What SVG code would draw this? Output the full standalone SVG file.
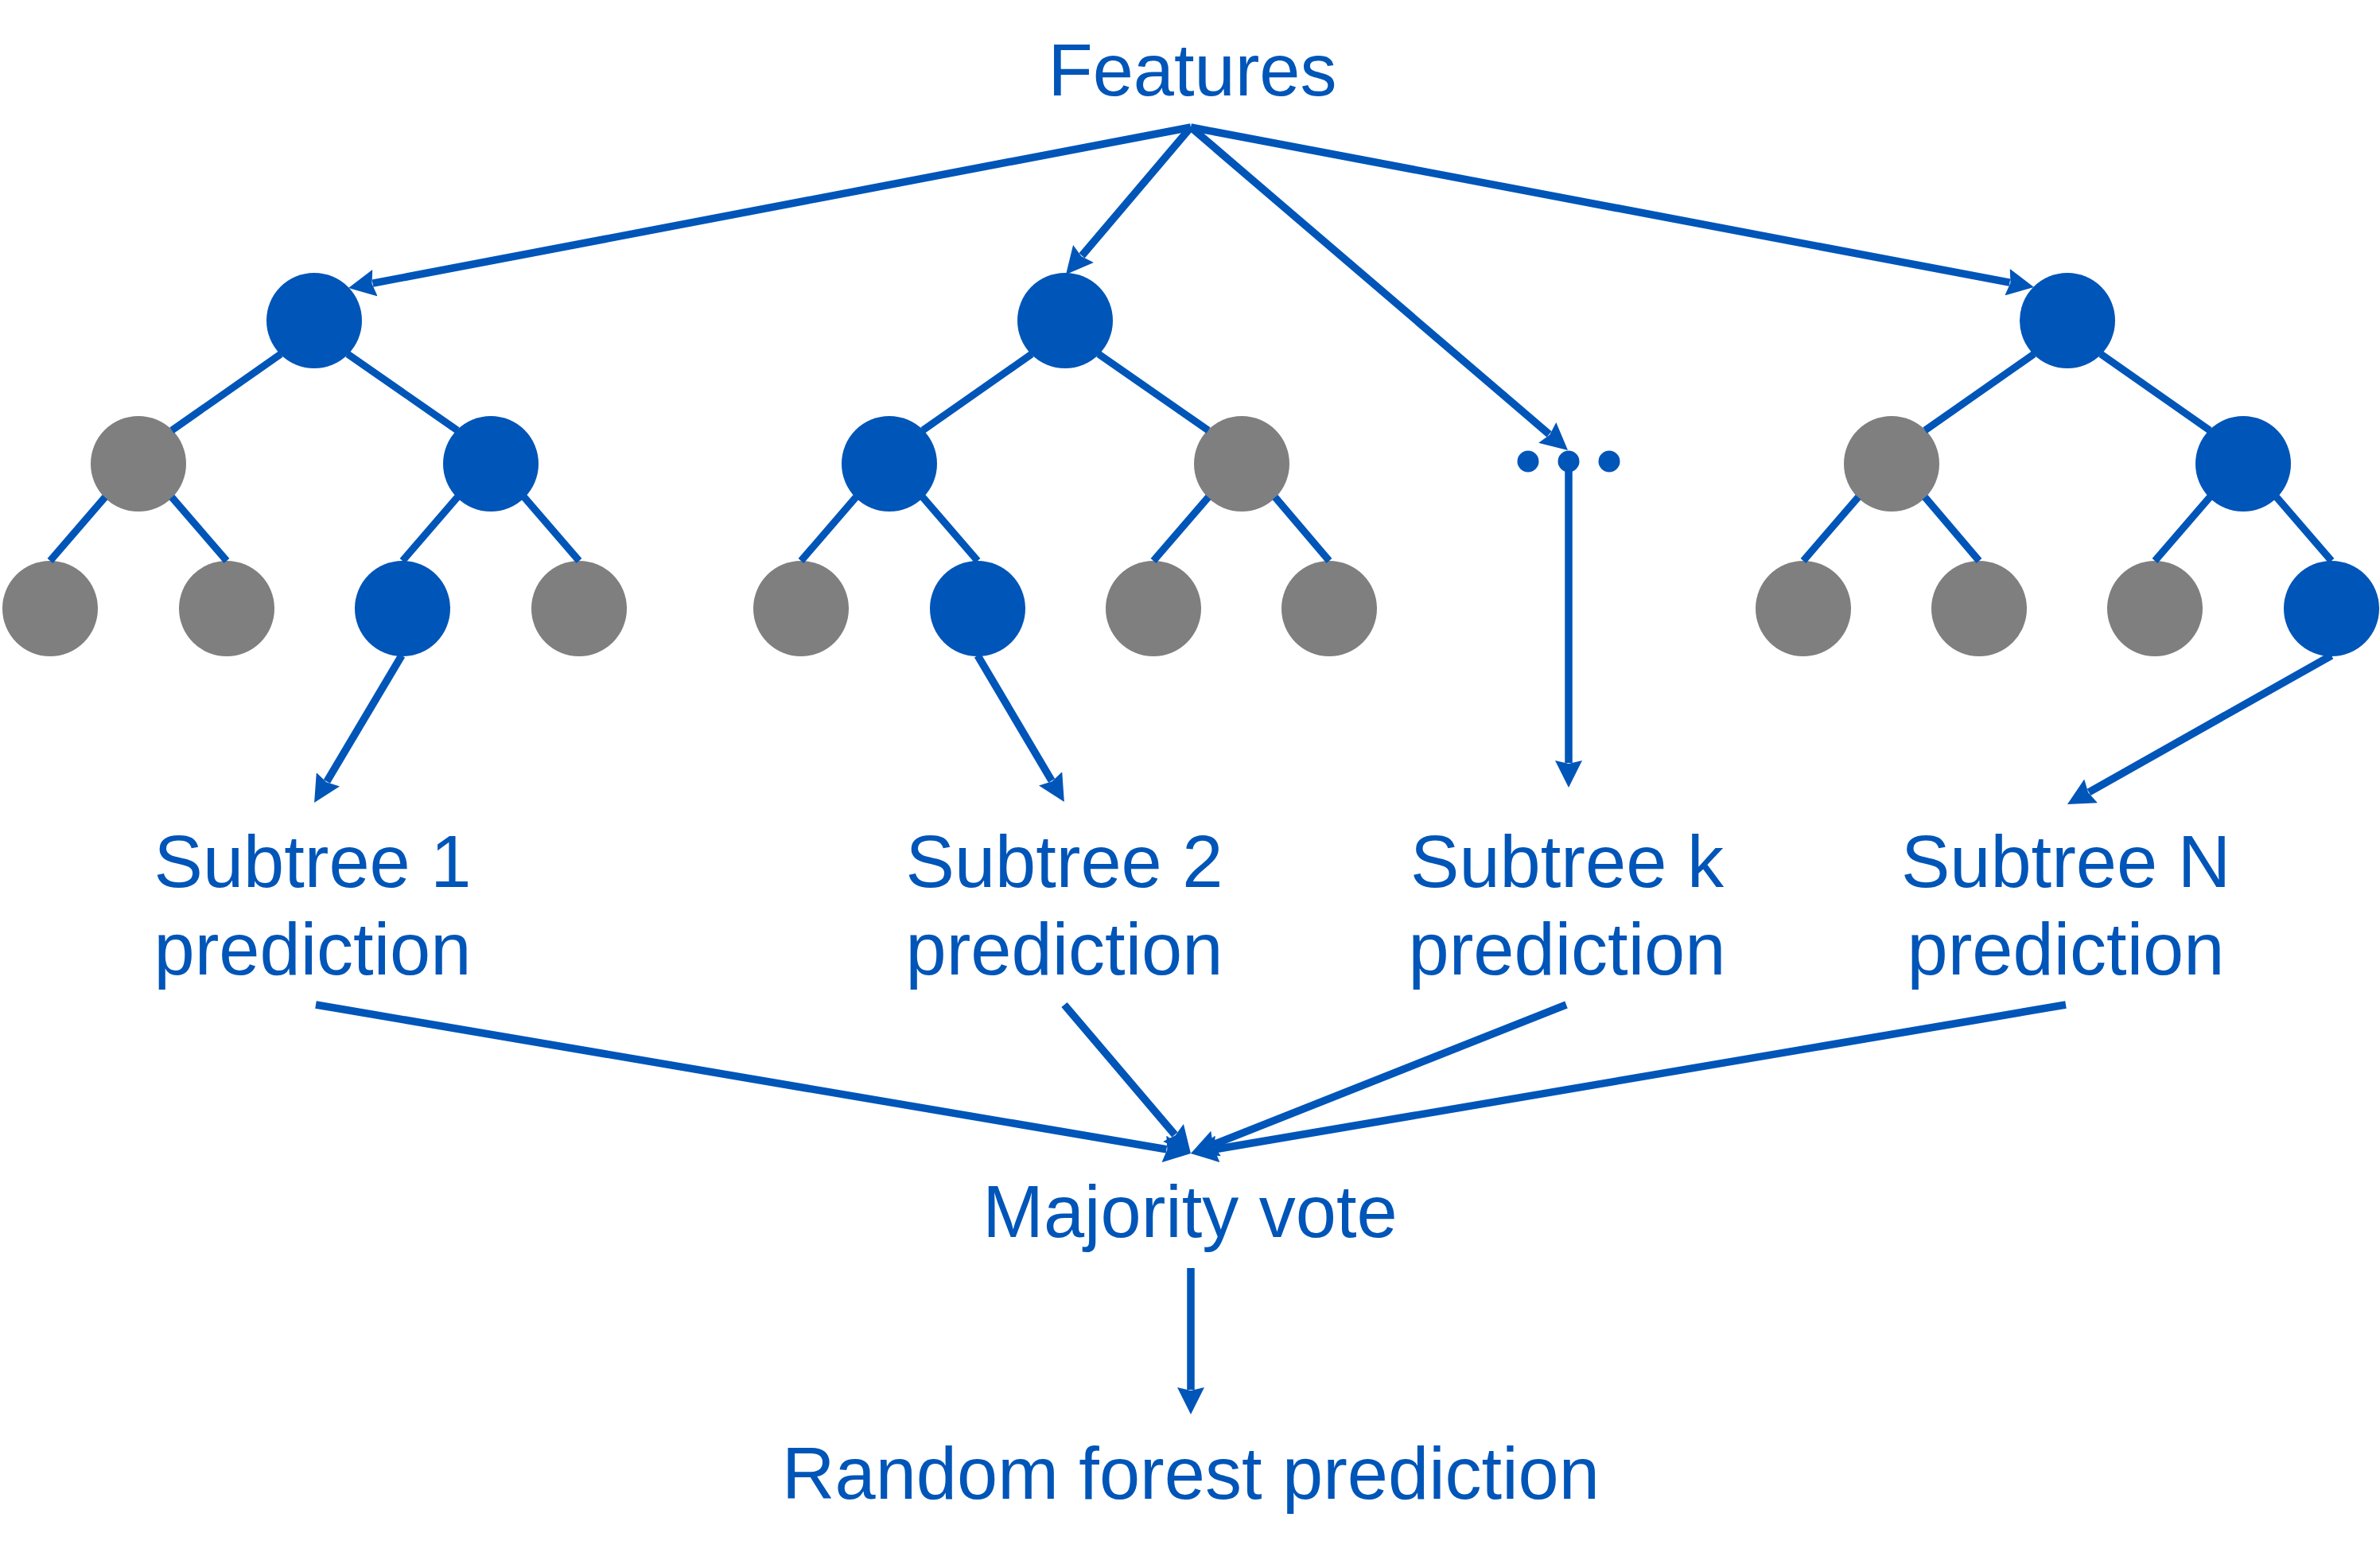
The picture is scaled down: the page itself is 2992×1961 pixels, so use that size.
<svg xmlns="http://www.w3.org/2000/svg" width="2992" height="1961" viewBox="0 0 2992 1961">
<style>
.t{font-family:"Liberation Sans",Arial,sans-serif;font-size:92px;fill:#0055B8;text-anchor:middle}
.e{stroke:#0055B8;stroke-width:9;fill:none}
.a{stroke:#0055B8;stroke-width:9.5;fill:none;marker-end:url(#ah)}
.b{fill:#0055B8}
.g{fill:#7F7F7F}
</style>
<defs>
<marker id="ah" viewBox="0 0 34 34" refX="3" refY="17" markerWidth="34" markerHeight="34" markerUnits="userSpaceOnUse" orient="auto">
<path d="M0,0 L34,17 L0,34 L4,17 Z" fill="#0055B8"/>
</marker>
</defs>
<rect width="2992" height="1961" fill="#fff"/>
<g id="features"><text class="t" x="1499" y="120">Features</text></g>
<g id="tree1">
<circle class="b" cx="395" cy="403" r="60"/>
<circle class="g" cx="174" cy="583" r="60"/>
<circle class="b" cx="617" cy="583" r="60"/>
<circle class="g" cx="63" cy="765" r="60"/>
<circle class="g" cx="285" cy="765" r="60"/>
<circle class="b" cx="506" cy="765" r="60"/>
<circle class="g" cx="728" cy="765" r="60"/>
</g>
<g id="tree2">
<circle class="b" cx="1339" cy="403" r="60"/>
<circle class="b" cx="1118" cy="583" r="60"/>
<circle class="g" cx="1561" cy="583" r="60"/>
<circle class="g" cx="1007" cy="765" r="60"/>
<circle class="b" cx="1229" cy="765" r="60"/>
<circle class="g" cx="1450" cy="765" r="60"/>
<circle class="g" cx="1671" cy="765" r="60"/>
</g>
<g id="dots">
<circle class="b" cx="1921" cy="580" r="13.5"/>
<circle class="b" cx="1972" cy="580" r="13.5"/>
<circle class="b" cx="2023" cy="580" r="13.5"/>
</g>
<g id="treeN">
<circle class="b" cx="2599" cy="403" r="60"/>
<circle class="g" cx="2378" cy="583" r="60"/>
<circle class="b" cx="2820" cy="583" r="60"/>
<circle class="g" cx="2267" cy="765" r="60"/>
<circle class="g" cx="2488" cy="765" r="60"/>
<circle class="g" cx="2709" cy="765" r="60"/>
<circle class="b" cx="2931" cy="765" r="60"/>
</g>
<g id="sub1"><text class="t" x="393" y="1115">Subtree 1</text><text class="t" x="393" y="1225">prediction</text></g>
<g id="sub2"><text class="t" x="1338" y="1115">Subtree 2</text><text class="t" x="1338" y="1225">prediction</text></g>
<g id="subk"><text class="t" x="1970" y="1115">Subtree k</text><text class="t" x="1970" y="1225">prediction</text></g>
<g id="subN"><text class="t" x="2597" y="1115">Subtree N</text><text class="t" x="2597" y="1225">prediction</text></g>
<g id="vote"><text class="t" x="1496" y="1555">Majority vote</text></g>
<g id="rf"><text class="t" x="1497" y="1884">Random forest prediction</text></g>
<g id="connectors">
<!-- tree 1 edges -->
<line class="e" x1="353" y1="445" x2="216" y2="541"/>
<line class="e" x1="437" y1="445" x2="575" y2="541"/>
<line class="e" x1="132" y1="625" x2="63" y2="705"/>
<line class="e" x1="216" y1="625" x2="285" y2="705"/>
<line class="e" x1="575" y1="625" x2="506" y2="705"/>
<line class="e" x1="659" y1="625" x2="728" y2="705"/>
<!-- tree 2 edges -->
<line class="e" x1="1297" y1="445" x2="1160" y2="541"/>
<line class="e" x1="1381" y1="445" x2="1519" y2="541"/>
<line class="e" x1="1076" y1="625" x2="1007" y2="705"/>
<line class="e" x1="1160" y1="625" x2="1229" y2="705"/>
<line class="e" x1="1519" y1="625" x2="1450" y2="705"/>
<line class="e" x1="1603" y1="625" x2="1671" y2="705"/>
<!-- tree N edges -->
<line class="e" x1="2557" y1="445" x2="2420" y2="541"/>
<line class="e" x1="2641" y1="445" x2="2778" y2="541"/>
<line class="e" x1="2336" y1="625" x2="2267" y2="705"/>
<line class="e" x1="2420" y1="625" x2="2488" y2="705"/>
<line class="e" x1="2778" y1="625" x2="2709" y2="705"/>
<line class="e" x1="2862" y1="625" x2="2931" y2="705"/>
<!-- features arrows -->
<line class="a" x1="1497" y1="160" x2="468.5" y2="356.2"/>
<line class="a" x1="1497" y1="160" x2="1360.1" y2="321.4"/>
<line class="a" x1="1497" y1="160" x2="1947.5" y2="545.8"/>
<line class="a" x1="1497" y1="160" x2="2526.5" y2="355.2"/>
<!-- subtree arrows -->
<line class="a" x1="505" y1="824" x2="410.9" y2="982.4"/>
<line class="a" x1="1229" y1="824" x2="1322.1" y2="981.4"/>
<line class="a" x1="1972" y1="592" x2="1972" y2="959"/>
<line class="a" x1="2931" y1="824" x2="2626" y2="995.8"/>
<!-- vote arrows -->
<line class="a" x1="397" y1="1263" x2="1466.4" y2="1444.8"/>
<line class="a" x1="1338" y1="1263" x2="1476.9" y2="1426.4"/>
<line class="a" x1="1969" y1="1263" x2="1525.8" y2="1438.6"/>
<line class="a" x1="2597" y1="1263" x2="1527.6" y2="1444.8"/>
<line class="a" x1="1497" y1="1594" x2="1497" y2="1747"/>
</g>
</svg>
